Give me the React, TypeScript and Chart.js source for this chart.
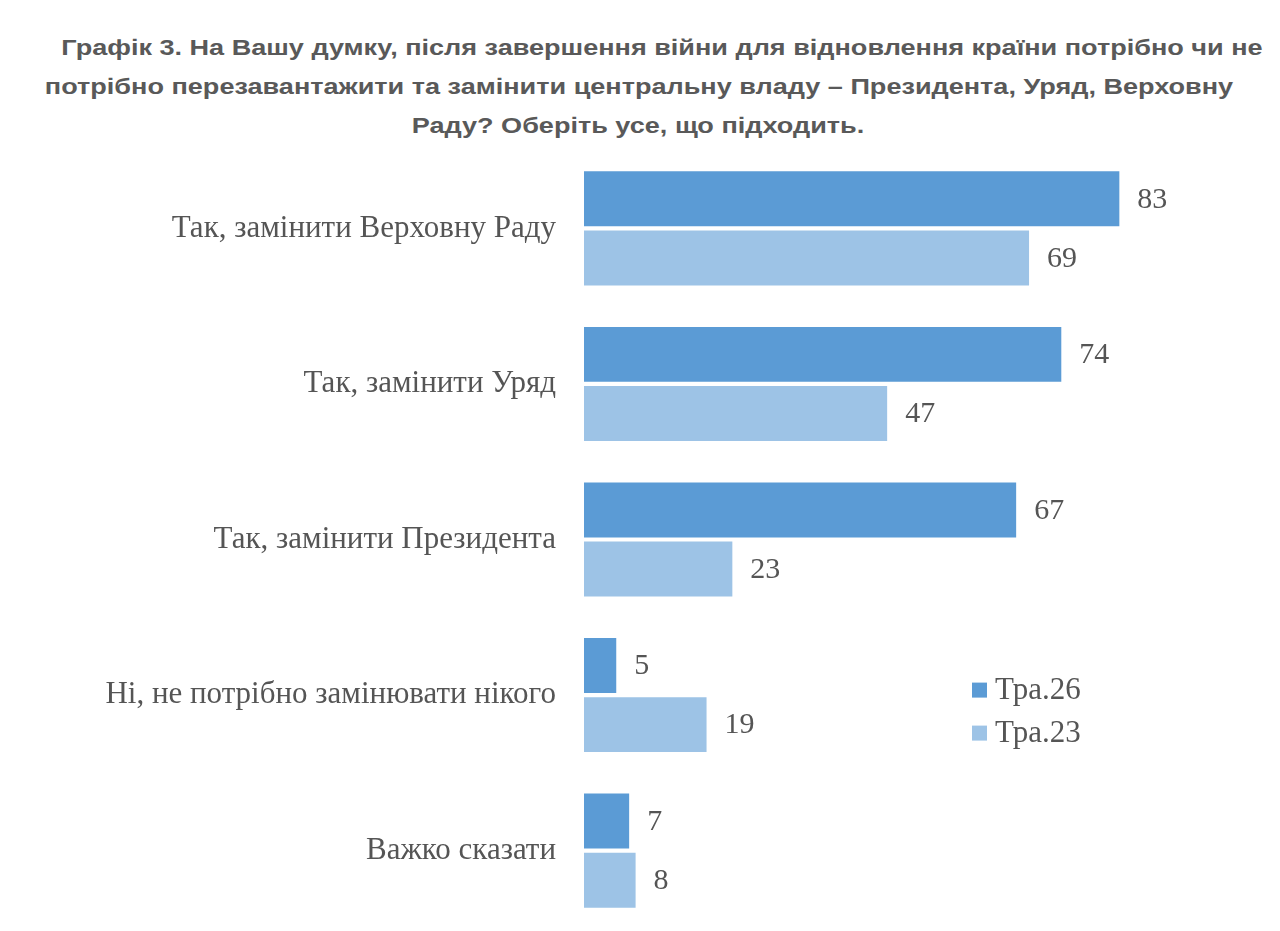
import React, { useEffect, useRef } from "react";
import { Chart, registerables, Plugin } from "chart.js";

Chart.register(...registerables);

const categories = [
  "Так, замінити Верховну Раду",
  "Так, замінити Уряд",
  "Так, замінити Президента",
  "Ні, не потрібно замінювати нікого",
  "Важко сказати",
];
const seriesNames = ["Тра.26", "Тра.23"];
const may26 = [83, 74, 67, 5, 7];
const may23 = [69, 47, 23, 19, 8];
const colors = ["#5b9bd5", "#9dc3e6"];

const titleLines = [
  "Графік 3. На Вашу думку, після завершення війни для відновлення країни потрібно чи не",
  "потрібно перезавантажити та замінити центральну владу – Президента, Уряд, Верховну",
  "Раду? Оберіть усе, що підходить.",
];
// horizontal shift of each centred title line
const titleShift = [22, -1, -2];

const serif = '"Liberation Serif", "Times New Roman", serif';
const textColor = "#555555";

// value labels at the end of each bar
const valueLabels: Plugin<"bar"> = {
  id: "valueLabels",
  afterDatasetsDraw(chart) {
    const ctx = chart.ctx;
    ctx.save();
    ctx.font = `30px ${serif}`;
    ctx.fillStyle = textColor;
    ctx.textAlign = "left";
    ctx.textBaseline = "middle";
    chart.data.datasets.forEach((ds, i) => {
      const meta = chart.getDatasetMeta(i);
      meta.data.forEach((bar, j) => {
        const p = bar.getProps(["x", "y"], true);
        ctx.fillText(String(ds.data[j]), p.x + 18, p.y + 1);
      });
    });
    ctx.restore();
  },
};

// small legend inside the chart area, lower right
const sideLegend: Plugin<"bar"> = {
  id: "sideLegend",
  afterDraw(chart) {
    const ctx = chart.ctx;
    const area = chart.chartArea;
    const x0 = area.left + 388;
    const y0 = area.top + 539;
    ctx.save();
    ctx.font = `31px ${serif}`;
    ctx.textBaseline = "middle";
    chart.data.datasets.forEach((ds, i) => {
      const y = y0 + i * 43;
      ctx.fillStyle = ds.backgroundColor as string;
      ctx.fillRect(x0, y - 7, 15, 15);
      ctx.fillStyle = textColor;
      ctx.fillText(ds.label as string, x0 + 23, y + 1);
    });
    ctx.restore();
  },
};

const App: React.FC = () => {
  const canvasRef = useRef<HTMLCanvasElement>(null);
  const chartRef = useRef<Chart | null>(null);

  useEffect(() => {
    if (!canvasRef.current) return;
    if (chartRef.current) chartRef.current.destroy();

    chartRef.current = new Chart(canvasRef.current, {
      type: "bar",
      data: {
        labels: categories,
        datasets: [
          {
            label: seriesNames[0],
            data: may26,
            backgroundColor: colors[0],
            categoryPercentage: 0.76,
            barPercentage: 0.93,
          },
          {
            label: seriesNames[1],
            data: may23,
            backgroundColor: colors[1],
            categoryPercentage: 0.76,
            barPercentage: 0.93,
          },
        ],
      },
      options: {
        indexAxis: "y",
        animation: false,
        responsive: true,
        maintainAspectRatio: false,
        layout: { padding: { top: 0, right: 43, bottom: 0, left: 0 } },
        scales: {
          x: {
            display: false,
            min: 0,
            max: 100,
          },
          y: {
            grid: { display: false, drawTicks: true, tickLength: 28 },
            border: { display: false },
            ticks: {
              color: textColor,
              font: { family: serif, size: 31 },
              padding: 0,
            },
            afterFit(scale) {
              scale.width = 576;
            },
          },
        },
        plugins: {
          legend: { display: false },
          tooltip: { enabled: false },
        },
      },
      plugins: [valueLabels, sideLegend],
    });

    return () => {
      if (chartRef.current) {
        chartRef.current.destroy();
        chartRef.current = null;
      }
    };
  }, []);

  return (
    <div style={{ width: 1264, background: "#fff" }}>
      <div
        style={{
          marginTop: 20,
          fontFamily: '"Liberation Sans", Arial, sans-serif',
          fontWeight: "bold",
          fontSize: 22,
          lineHeight: "39px",
          color: "#595959",
          textAlign: "center",
          whiteSpace: "nowrap",
        }}
      >
        {titleLines.map((line, i) => (
          <div
            key={i}
            style={{
              transform: `translateX(${titleShift[i]}px) scaleX(1.23)`,
              transformOrigin: "center",
            }}
          >
            {line}
          </div>
        ))}
      </div>
      <div style={{ position: "relative", height: 815, marginTop: -13 }}>
        <canvas ref={canvasRef} />
      </div>
    </div>
  );
};

export default App;
